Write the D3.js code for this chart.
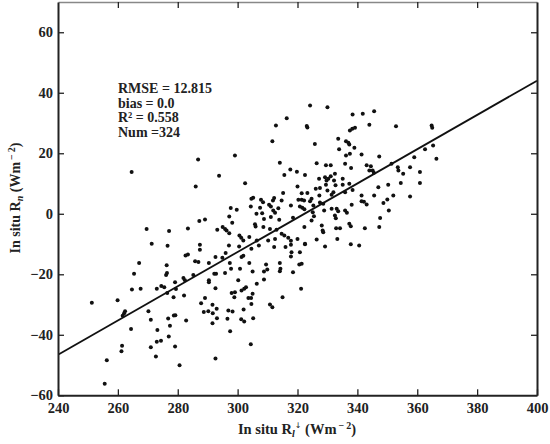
<!DOCTYPE html>
<html><head><meta charset="utf-8">
<script src="https://cdn.jsdelivr.net/npm/d3@7/dist/d3.min.js"></script>
<style>
body{margin:0;background:#fff;}
text{font-family:"Liberation Serif","Times New Roman",serif;font-weight:bold;fill:#222;}
</style></head><body>
<svg id="chart" width="550" height="444"></svg>
<script>
// Scatter points: in situ longwave downward radiation (x) vs in situ net radiation (y)
const xVals = [264.6,269.6,277.1,283.4,271.3,276.6,267.1,276.3,265.4,276.1,276.4,282.6,283.4,281.9,282.4,264.7,267.6,273.0,274.5,275.5,279.1,276.5,278.6,282.1,251.3,259.9,262.4,262.1,261.6,270.2,271.0,264.4,276.8,278.7,279.2,277.4,273.2,277.0,274.4,273.0,261.4,261.2,271.0,279.1,272.7,256.3,280.6,255.6,282.8,279.4,
316.4,312.8,311.6,299.1,286.8,314.1,317.6,319.8,315.6,322.5,293.8,302.5,286.0,320.0,321.4,315.2,305.2,304.6,307.8,312.2,311.8,308.5,314.7,320.3,321.4,322.2,297.7,299.7,304.4,307.5,310.5,311.1,313.6,317.8,320.8,321.6,322.3,311.9,312.5,306.3,308.2,297.2,308.8,311.1,313.9,318.5,287.2,289.1,298.2,293.2,295.0,295.8,296.3,297.2,305.8,306.0,308.6,310.8,313.0,314.7,315.6,316.9,300.6,301.2,301.9,303.9,306.4,310.2,312.5,320.0,322.3,
287.4,287.4,285.8,286.9,290.4,292.6,294.9,296.0,297.1,300.5,301.9,301.3,304.6,307.1,297.4,297.8,300.8,303.9,305.0,309.5,308.8,309.9,308.8,312.2,316.0,317.8,318.0,317.8,320.8,322.5,314.1,314.3,314.1,318.5,320.6,321.4,321.2,315.0,310.8,311.6,306.4,300.2,292.6,289.1,287.8,288.7,290.2,291.7,291.6,293.0,293.1,291.6,296.9,298.3,296.6,298.0,299.1,298.9,301.3,302.2,302.8,303.6,304.5,305.0,304.6,302.0,301.2,302.2,305.2,297.5,304.4,292.6,290.4,290.4,292.2,292.8,295.8,285.2,317.8,
324.2,330.0,338.4,341.8,345.6,323.1,323.3,337.5,338.3,339.2,344.0,352.9,364.8,365.0,333.6,336.2,337.0,337.3,325.8,333.9,339.0,337.5,336.2,341.4,347.3,362.6,365.3,366.4,359.0,326.4,329.5,331.1,335.9,337.9,343.1,344.5,344.0,345.1,345.5,351.4,353.5,353.7,357.6,355.3,360.9,360.9,354.5,350.3,347.0,357.6,352.0,350.0,348.7,350.5,345.6,343.1,342.2,347.6,347.3,342.5,327.2,329.2,329.7,330.3,331.1,332.5,332.2,329.5,332.7,335.1,337.3,335.1,327.5,326.1,330.0,332.0,331.4,335.9,338.4,341.4,324.7,324.2,327.3,325.3,327.5,328.6,325.1,328.9,331.4,333.1,333.6,335.9,336.5,338.1,341.4,324.7,328.1,328.4,328.6,332.9,334.2,337.3,337.8,326.4,333.3,337.8,340.6,332.5,332.8,325.5,329.2,322.5,323.3];
const yVals = [13.8,-5.0,-5.7,-4.9,-9.9,-10.6,-16.3,-17.0,-19.8,-20.2,-19.6,-13.8,-13.5,-21.2,-22.0,-25.0,-24.8,-24.8,-23.9,-24.3,-22.6,-26.2,-27.6,-27.0,-29.4,-28.6,-32.2,-32.9,-33.7,-32.2,-35.0,-38.1,-34.6,-33.6,-33.5,-37.0,-38.4,-40.6,-42.0,-42.3,-43.6,-45.4,-44.1,-43.9,-47.2,-48.4,-50.1,-56.2,-35.3,-24.9,
31.6,29.2,24.0,19.3,17.9,16.9,14.6,13.9,12.8,12.8,12.6,10.1,9.0,9.0,6.8,6.9,5.3,5.0,4.6,5.2,4.4,3.8,4.4,4.6,4.6,4.4,1.9,1.3,2.4,2.0,3.0,2.4,1.8,2.7,2.4,2.0,1.5,1.1,0.3,0.0,0.2,-0.9,-1.7,-1.1,-2.0,-1.3,-2.4,-1.9,-3.0,-5.3,-4.4,-5.0,-5.5,-6.4,-3.5,-4.2,-4.4,-5.0,-5.3,-6.6,-7.2,-7.9,-7.2,-7.9,-8.8,-7.7,-8.8,-8.8,-8.3,-8.3,-4.4,
-10.2,-11.9,-15.7,-15.9,-16.3,-14.3,-14.5,-13.0,-10.5,-10.8,-13.9,-14.3,-11.6,-10.5,-16.3,-18.2,-18.2,-16.3,-19.1,-16.8,-19.1,-18.4,-21.7,-11.0,-11.0,-10.2,-12.7,-14.1,-12.7,-10.1,-16.3,-18.2,-19.0,-19.3,-16.8,-16.5,-24.8,-27.6,-30.0,-30.9,-23.1,-22.0,-24.6,-27.8,-29.6,-32.5,-32.2,-32.9,-30.1,-31.4,-34.5,-36.2,-32.0,-32.3,-34.7,-26.2,-25.9,-27.6,-25.4,-24.8,-24.3,-27.8,-27.8,-26.4,-29.8,-31.6,-34.9,-35.6,-34.5,-38.8,-43.1,-47.8,-22.0,-22.6,-19.8,-19.8,-19.6,-20.2,-8.9,
35.8,35.2,32.8,33.1,33.9,29.0,28.5,27.5,28.1,28.4,29.4,28.9,29.2,28.4,24.8,24.0,23.5,22.9,23.1,21.3,21.8,19.8,19.3,19.6,18.9,21.3,22.6,18.2,18.7,16.7,16.0,16.0,16.5,15.1,16.0,15.7,14.3,14.3,13.6,16.5,15.4,14.3,15.4,13.2,13.8,10.2,10.2,9.6,8.8,5.7,6.0,4.7,3.6,1.1,6.0,3.1,4.0,-1.4,-4.4,-4.8,11.6,12.1,11.0,11.6,12.4,13.2,11.0,9.6,9.4,11.6,9.9,9.6,8.5,8.3,7.7,7.1,6.3,7.1,7.9,6.0,5.0,4.1,6.0,2.7,3.7,3.3,0.5,1.1,1.7,1.7,0.8,1.1,0.3,3.0,4.1,-2.2,-3.9,-5.5,-6.1,-4.8,-4.8,-3.3,-4.1,-8.5,-8.3,-10.1,-10.5,-0.6,-1.5,-0.8,-10.8,-9.9,6.9];
// Regression line end points
const fitX = [240, 400];
const fitY = [-46.6, 44.0];
// Axis ticks
const xTicks = [240,260,280,300,320,340,360,380,400];
const yTicks = [-60,-40,-20,0,20,40,60];
const statLines = ["RMSE = 12.815","bias = 0.0","R² = 0.558","Num =324"];

const svg = d3.select("#chart");
const L=58, R=537, T=2, B=395.3;
const x = d3.scaleLinear().domain([240,400]).range([L,R]);
const y = d3.scaleLinear().domain([-60,70]).range([B,T]);

svg.append("defs").append("clipPath").attr("id","clip")
  .append("rect").attr("x",L).attr("y",T).attr("width",R-L).attr("height",B-T);

// points
svg.append("g").attr("clip-path","url(#clip)").selectAll("circle")
  .data(xVals.map((v,i)=>[v,yVals[i]]))
  .join("circle").attr("cx",d=>x(d[0])).attr("cy",d=>y(d[1])).attr("r",2).attr("fill","#111");

// fit line
svg.append("path").attr("clip-path","url(#clip)")
  .datum(fitX.map((v,i)=>[v,fitY[i]]))
  .attr("d",d3.line().x(d=>x(d[0])).y(d=>y(d[1])))
  .attr("fill","none").attr("stroke","#111").attr("stroke-width",1.8);

function styleAxis(g, color, w){
  g.select(".domain").attr("stroke",color).attr("stroke-width",w);
  g.selectAll(".tick line").attr("stroke","#222").attr("stroke-width",1.3);
  g.selectAll(".tick text").attr("fill","#222").attr("font-size","14.5px")
    .attr("font-family","Liberation Serif, Times New Roman, serif").attr("font-weight","bold");
}
const fmt = d=> d<0 ? "\u2212"+Math.abs(d) : String(d);

const gTop = svg.append("g").attr("transform",`translate(0,${T})`)
  .call(d3.axisTop(x).tickValues(xTicks.slice(1,-1)).tickSizeInner(-6).tickSizeOuter(0).tickFormat(""));
styleAxis(gTop,"#888",1.5);
const gRight = svg.append("g").attr("transform",`translate(${R},0)`)
  .call(d3.axisRight(y).tickValues(yTicks.slice(1)).tickSizeInner(-6).tickSizeOuter(0).tickFormat(""));
styleAxis(gRight,"#222",2);
const gBottom = svg.append("g").attr("transform",`translate(0,${B})`)
  .call(d3.axisBottom(x).tickValues(xTicks).tickSizeInner(-6).tickSizeOuter(0).tickPadding(12).tickFormat(fmt));
styleAxis(gBottom,"#222",2);
gBottom.selectAll(".tick text").attr("dy","0.71em").attr("y",7);
const gLeft = svg.append("g").attr("transform",`translate(${L},0)`)
  .call(d3.axisLeft(y).tickValues(yTicks).tickSizeInner(-6).tickSizeOuter(0).tickPadding(6).tickFormat(fmt));
styleAxis(gLeft,"#222",2);
gLeft.selectAll(".tick text").attr("x",-5);

// stats text
svg.append("g").selectAll("text").data(statLines).join("text")
  .attr("x",118).attr("y",(d,i)=>93+i*14.5).attr("font-size","14px").text(d=>d);

// x label
const xl = svg.append("text").attr("x",297).attr("y",434).attr("text-anchor","middle").attr("font-size","14.5px");
xl.append("tspan").text("In situ R");
xl.append("tspan").attr("font-style","italic").attr("font-size","10px").attr("dy",3).text("l");
xl.append("tspan").attr("font-family","DejaVu Sans").attr("font-weight","normal").attr("font-size","8px").attr("dy",-9).text("\u2193");
xl.append("tspan").attr("dy",6).text(" (Wm");
xl.append("tspan").attr("font-size","10px").attr("dy",-5).text("\u2009\u2212\u20092");
xl.append("tspan").attr("dy",5).text(")");

// y label
const yl = svg.append("text").attr("transform","translate(20,198) rotate(-90)").attr("text-anchor","middle").attr("font-size","14px");
yl.append("tspan").text("In situ R");
yl.append("tspan").attr("font-style","italic").attr("font-size","10px").attr("dy",3).text("n");
yl.append("tspan").attr("dy",-3).text(" (Wm");
yl.append("tspan").attr("font-size","10px").attr("dy",-5).text("\u2009\u2212\u20092");
yl.append("tspan").attr("dy",5).text(")");
</script>
</body></html>
